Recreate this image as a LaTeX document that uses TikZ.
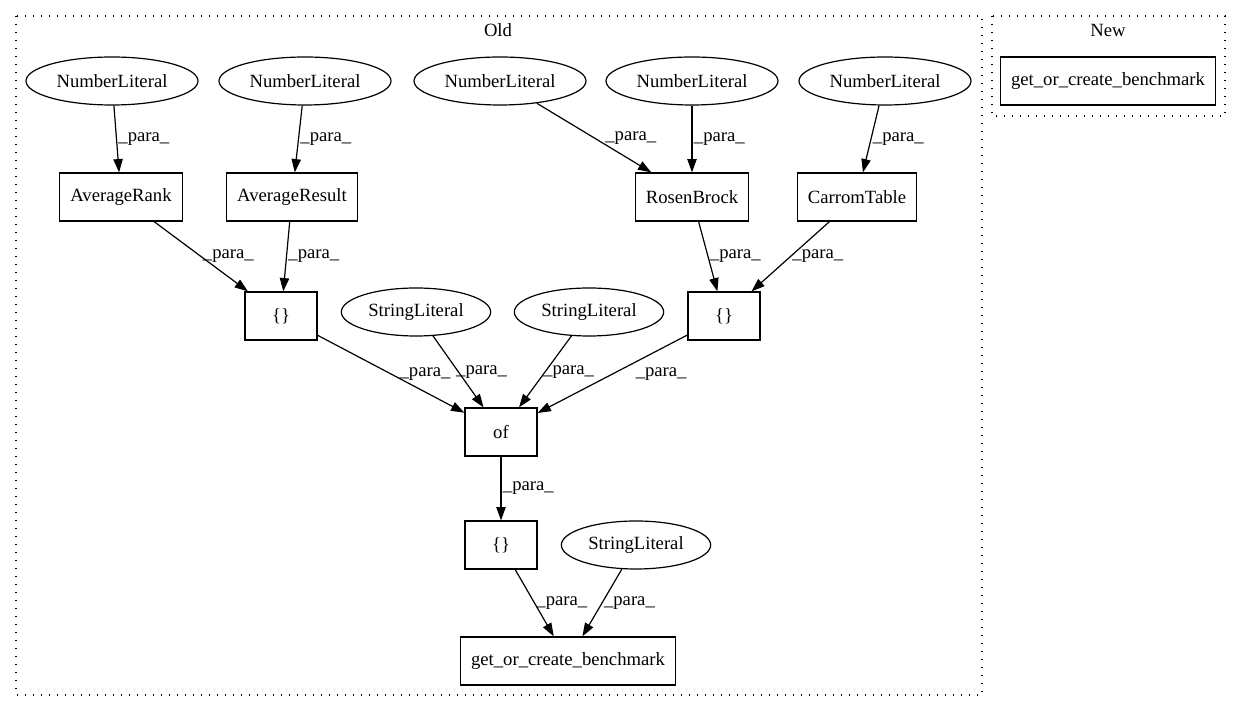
\documentclass[tikz,border=0pt]{standalone}
\usepackage{fontspec}
\setmainfont{Liberation Serif}
\usepackage{tikz}
\usetikzlibrary{shapes.geometric,arrows.meta}

\begin{document}
\begin{tikzpicture}[
    x=0.75pt, y=-0.75pt,
    every node/.style={font=\fontsize{14}{16}\selectfont},
    lit/.style={ellipse, draw, line width=0.9pt, minimum width=129pt, minimum height=36pt, inner sep=0pt},
    strlit/.style={lit, minimum width=112pt},
    call/.style={rectangle, draw, line width=0.9pt, minimum width=54pt, minimum height=36pt, inner xsep=8pt},
    arrow/.style={-{Triangle[length=10pt, width=7pt]}, line width=0.9pt},
    edgelbl/.style={midway, right, inner sep=1pt},
    cluster/.style={draw, line width=0.9pt, dash pattern=on 1pt off 5pt}
]
\useasboundingbox (0,0) rectangle (1240,712);

% Clusters
\draw[cluster] (16,16) rectangle (982,695);
\draw[cluster] (992,16) rectangle (1225,116);
\node (oldlbl) at (498,30) {Old};
\node (newlbl) at (1108,30) {New};

% Literals
\node[lit] (num1) at (112,81) {NumberLiteral};
\node[lit] (num2) at (305,81) {NumberLiteral};
\node[lit] (num3) at (500,81) {NumberLiteral};
\node[lit] (num4) at (692,81) {NumberLiteral};
\node[lit] (num5) at (885,81) {NumberLiteral};
\node[strlit] (str1) at (416,312) {StringLiteral};
\node[strlit] (str2) at (589,312) {StringLiteral};
\node[strlit] (str3) at (636,545) {StringLiteral};

% Calls
\node[call] (avgrank) at (121,197) {AverageRank};
\node[call] (avgres) at (292,197) {AverageResult};
\node[call] (rosen) at (692,197) {RosenBrock};
\node[call] (carrom) at (857,197) {CarromTable};
\node[call] (setl) at (281,316) {\{\}};
\node[call] (setr) at (724,316) {\{\}};
\node[call] (of) at (501,432) {of};
\node[call] (setb) at (501,545) {\{\}};
\node[call] (bench) at (568,661) {get\_or\_create\_benchmark};

% New
\node[call] (newbench) at (1108,81) {get\_or\_create\_benchmark};

% Edges
\draw[arrow] (num1) -- node[edgelbl] {\_para\_} (avgrank);
\draw[arrow] (num2) -- node[edgelbl] {\_para\_} (avgres);
\draw[arrow] (num3) -- node[edgelbl, xshift=7pt] {\_para\_} (rosen);
\draw[arrow] (num4) -- node[edgelbl] {\_para\_} (rosen);
\draw[arrow] (num5) -- node[edgelbl] {\_para\_} (carrom);
\draw[arrow] (avgrank) -- node[edgelbl] {\_para\_} (setl);
\draw[arrow] (avgres) -- node[edgelbl] {\_para\_} (setl);
\draw[arrow] (rosen) -- node[edgelbl] {\_para\_} (setr);
\draw[arrow] (carrom) -- node[edgelbl] {\_para\_} (setr);
\draw[arrow] (setl) -- node[edgelbl, xshift=5pt] {\_para\_} (of);
\draw[arrow] (str1) -- node[edgelbl, xshift=-3pt] {\_para\_} (of);
\draw[arrow] (str2) -- node[edgelbl, xshift=-3pt] {\_para\_} (of);
\draw[arrow] (setr) -- node[edgelbl, xshift=16pt] {\_para\_} (of);
\draw[arrow] (of) -- node[edgelbl] {\_para\_} (setb);
\draw[arrow] (setb) -- node[edgelbl] {\_para\_} (bench);
\draw[arrow] (str3) -- node[edgelbl] {\_para\_} (bench);

\end{tikzpicture}
\end{document}
